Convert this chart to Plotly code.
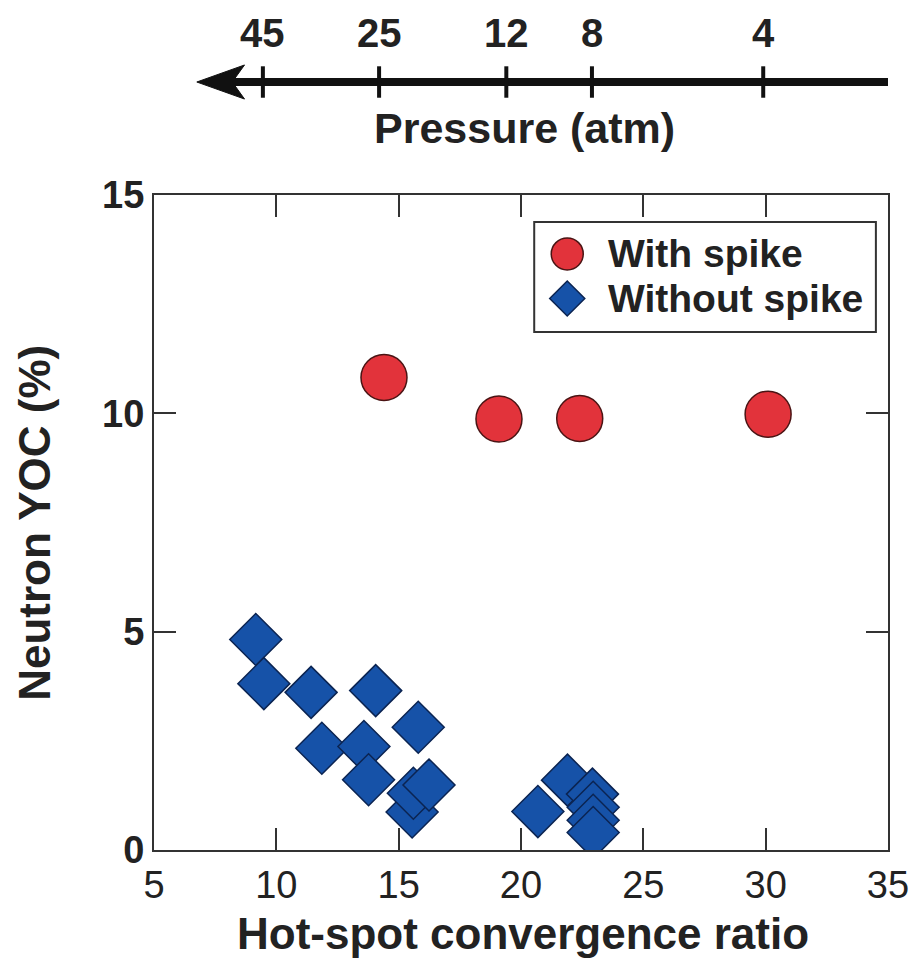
import plotly.graph_objects as go

# Shots with a spike: hot-spot convergence ratio vs neutron YOC (%)
spike_cr = [14.4, 19.1, 22.4, 30.1]
spike_yoc = [10.82, 9.87, 9.88, 9.98]

# Shots without a spike
nospike_cr = [9.16, 9.49, 11.42, 14.06, 15.80, 11.86, 13.58, 13.77,
              15.55, 15.60, 16.24, 20.69, 21.90, 22.92, 22.95, 22.95, 22.95]
nospike_yoc = [4.82, 3.81, 3.61, 3.65, 2.81, 2.33, 2.37, 1.61,
               0.87, 1.30, 1.49, 0.88, 1.60, 1.28, 0.98, 0.68, 0.40]

# Secondary pressure scale drawn above the plot (position on the CR axis)
pressure_labels = ["45", "25", "12", "8", "4"]
pressure_cr = [9.45, 14.2, 19.4, 22.9, 29.9]

x_ticks = [5, 10, 15, 20, 25, 30, 35]
y_ticks = [0, 5, 10, 15]

RED = "#e2333b"
RED_EDGE = "#4a1414"
BLUE = "#1652a8"
BLUE_EDGE = "#0b2452"
INK = "#222222"
SANS = "Liberation Sans, Arial, sans-serif"

fig = go.Figure()

fig.add_trace(go.Scatter(
    x=nospike_cr, y=nospike_yoc, mode="markers", name="Without spike",
    marker=dict(symbol="diamond", size=40, color=BLUE,
                line=dict(color=BLUE_EDGE, width=1.5)),
    showlegend=False))

fig.add_trace(go.Scatter(
    x=spike_cr, y=spike_yoc, mode="markers", name="With spike",
    marker=dict(symbol="circle", size=46, color=RED,
                line=dict(color=RED_EDGE, width=1.5)),
    showlegend=False))

# Legend symbols on an overlay axis spanning the plot area in [0, 1]
fig.add_trace(go.Scatter(
    x=[0.563], y=[0.91], xaxis="x2", yaxis="y2", mode="markers",
    marker=dict(symbol="circle", size=32, color=RED,
                line=dict(color=RED_EDGE, width=1.5)),
    showlegend=False, hoverinfo="skip"))
fig.add_trace(go.Scatter(
    x=[0.563], y=[0.842], xaxis="x2", yaxis="y2", mode="markers",
    marker=dict(symbol="diamond", size=27, color=BLUE,
                line=dict(color=BLUE_EDGE, width=1.5)),
    showlegend=False, hoverinfo="skip"))

shapes = []
# Legend frame
shapes.append(dict(type="rect", xref="paper", yref="paper",
                   x0=0.518, x1=0.9835, y0=0.791, y1=0.9588,
                   line=dict(color="#333333", width=2), fillcolor="rgba(0,0,0,0)"))

# Pressure arrow: shaft, head and ticks
y_arrow = 1.1725
shapes.append(dict(type="line", xref="x", yref="paper",
                   x0=8.0, x1=35.0, y0=y_arrow, y1=y_arrow,
                   line=dict(color="#111111", width=8)))
shapes.append(dict(type="path", xref="x", yref="paper",
                   path=f"M 6.75,{y_arrow} L 8.7,{y_arrow + 0.026} "
                        f"L 8.2,{y_arrow} L 8.7,{y_arrow - 0.026} Z",
                   fillcolor="#111111", line=dict(color="#111111", width=1)))
for xc in pressure_cr:
    shapes.append(dict(type="line", xref="x", yref="paper",
                       x0=xc, x1=xc, y0=y_arrow - 0.024, y1=y_arrow + 0.024,
                       line=dict(color="#111111", width=4)))

annotations = []
for lab, xc in zip(pressure_labels, pressure_cr):
    annotations.append(dict(x=xc, y=1.248, xref="x", yref="paper", text=lab,
                            showarrow=False, xanchor="center", yanchor="middle",
                            font=dict(family=SANS, size=40, color=INK, weight="bold")))
annotations.append(dict(x=0.505, y=1.102, xref="paper", yref="paper",
                        text="Pressure (atm)", showarrow=False,
                        xanchor="center", yanchor="middle",
                        font=dict(family=SANS, size=43, color=INK, weight="bold")))
annotations.append(dict(x=0.6159, y=0.91, xref="paper", yref="paper",
                        text="With spike", showarrow=False,
                        xanchor="left", yanchor="middle",
                        font=dict(family=SANS, size=39, color=INK, weight="bold")))
annotations.append(dict(x=0.6159, y=0.842, xref="paper", yref="paper",
                        text="Without spike", showarrow=False,
                        xanchor="left", yanchor="middle",
                        font=dict(family=SANS, size=39, color=INK, weight="bold")))
# Axis titles
annotations.append(dict(x=0.503, y=-0.127, xref="paper", yref="paper",
                        text="Hot-spot convergence ratio", showarrow=False,
                        xanchor="center", yanchor="middle",
                        font=dict(family=SANS, size=44, color=INK, weight="bold")))
annotations.append(dict(x=-0.163, y=0.5, xref="paper", yref="paper",
                        text="Neutron YOC (%)", showarrow=False, textangle=-90,
                        xanchor="center", yanchor="middle",
                        font=dict(family=SANS, size=44, color=INK, weight="bold")))

fig.update_layout(
    width=921, height=965, autosize=False,
    margin=dict(l=154, r=25, t=195, b=115, pad=0),
    paper_bgcolor="white", plot_bgcolor="white",
    shapes=shapes, annotations=annotations,
    xaxis=dict(range=[5, 35], tickvals=x_ticks, ticks="inside", ticklen=22,
               tickwidth=2, tickcolor="#333333", showline=True, linewidth=2,
               linecolor="#333333", mirror="ticks", showgrid=False,
               zeroline=False, ticklabelstandoff=0,
               tickfont=dict(family=SANS, size=38, color=INK)),
    yaxis=dict(range=[0, 15], tickvals=y_ticks, ticks="inside", ticklen=22,
               tickwidth=2, tickcolor="#333333", showline=True, linewidth=2,
               linecolor="#333333", mirror="ticks", showgrid=False,
               zeroline=False, ticklabelstandoff=0,
               tickfont=dict(family=SANS, size=38, color=INK, weight="bold")),
    xaxis2=dict(range=[0, 1], overlaying="x", visible=False),
    yaxis2=dict(range=[0, 1], overlaying="y", visible=False),
)

fig.write_html("out.html")
